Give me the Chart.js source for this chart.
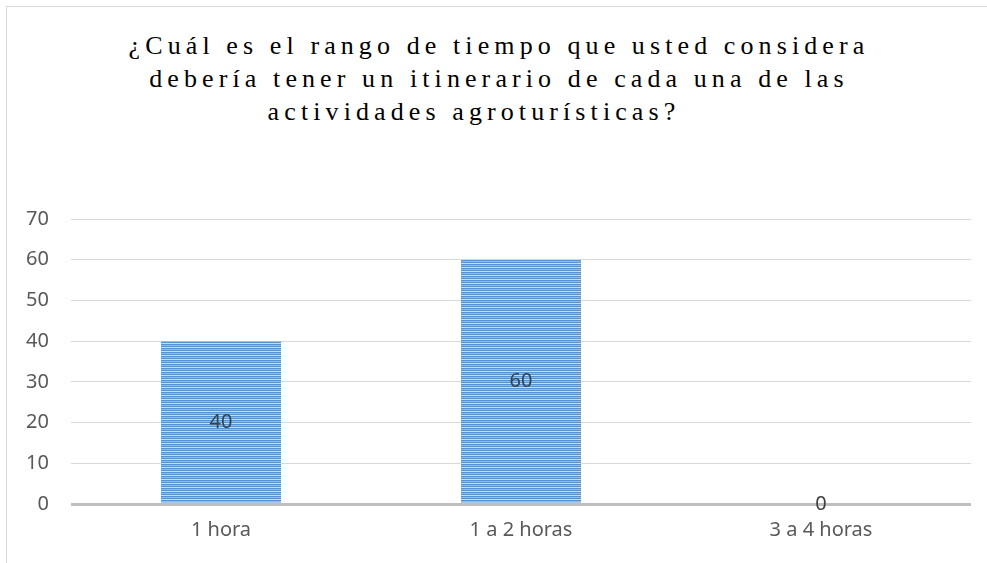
<!DOCTYPE html>
<html>
<head>
<meta charset="utf-8">
<script src="https://cdn.jsdelivr.net/npm/chart.js@4"></script>
<style>
  body { margin: 0; background: #fff; }
  #wrap { position: relative; width: 987px; height: 563px; overflow: hidden; }
  #frame { position: absolute; left: 6px; top: 6px; width: 1200px; height: 800px;
           border-left: 1px solid #d9d9d9; border-top: 1px solid #d9d9d9; }
  #title { position: absolute; left: 0; top: 29px; width: 998px; text-align: center;
           font-family: "Liberation Serif", serif; font-size: 26px; letter-spacing: 5.1px;
           color: #000; line-height: 33px; }
  #title div { white-space: nowrap; }
  canvas { position: absolute; left: 0; top: 0; }
</style>
</head>
<body>
<div id="wrap">
  <div id="frame"></div>
  <div id="title">
    <div>¿Cuál es el rango de tiempo que usted considera</div>
    <div>debería tener un itinerario de cada una de las</div>
    <div style="padding-right:50px">actividades agroturísticas?</div>
  </div>
  <canvas id="chart" width="987" height="563"></canvas>
</div>
<script>
// datos
const categories = ['1 hora', '1 a 2 horas', '3 a 4 horas'];
const values = [40, 60, 0];
const yTicks = [0, 10, 20, 30, 40, 50, 60, 70];

// relleno a rayas horizontales
function stripes() {
    const c = document.createElement('canvas');
    c.width = 4; c.height = 4;
    const g = c.getContext('2d');
    const rows = ['#5793d0', '#8fbae5', '#5793d0', '#c6dcf2'];
    rows.forEach((col, i) => { g.fillStyle = col; g.fillRect(0, i, 4, 1); });
    return g.createPattern(c, 'repeat');
}

const labelFont = '"Noto Sans", sans-serif';

// valores dentro de la barra
const valueLabels = {
    id: 'valueLabels',
    afterDatasetsDraw(chart) {
        const ctx = chart.ctx;
        const meta = chart.getDatasetMeta(0);
        ctx.save();
        ctx.font = '20px ' + labelFont;
        ctx.fillStyle = '#404040';
        ctx.textAlign = 'center';
        ctx.textBaseline = 'middle';
        meta.data.forEach((bar, i) => {
            const y = (bar.y + bar.base) / 2;
            ctx.fillText(String(values[i]), bar.x, y);
        });
        ctx.restore();
    }
};

new Chart(document.getElementById('chart'), {
    type: 'bar',
    data: {
        labels: categories,
        datasets: [{
            data: values,
            backgroundColor: stripes(),
            categoryPercentage: 1,
            barPercentage: 0.4
        }]
    },
    options: {
        responsive: false,
        animation: false,
        layout: { padding: { top: 219, right: 16, left: 0, bottom: 0 } },
        plugins: { legend: { display: false }, tooltip: { enabled: false } },
        scales: {
            x: {
                grid: { display: false, drawTicks: false },
                border: { display: false },
                ticks: { color: '#595959', font: { family: labelFont, size: 20 }, padding: 14 },
                afterFit: (s) => { s.height = 59; }
            },
            y: {
                min: 0, max: 70,
                afterBuildTicks: (s) => { s.ticks = yTicks.map(v => ({ value: v })); },
                grid: {
                    drawTicks: false,
                    color: (c) => c.tick && c.tick.value === 0 ? '#bfbfbf' : '#d9d9d9',
                    lineWidth: (c) => c.tick && c.tick.value === 0 ? 3 : 1
                },
                border: { display: false },
                ticks: { color: '#595959', font: { family: labelFont, size: 20 }, padding: 22 },
                afterFit: (s) => { s.width = 71; }
            }
        }
    },
    plugins: [valueLabels]
});
</script>
</body>
</html>
